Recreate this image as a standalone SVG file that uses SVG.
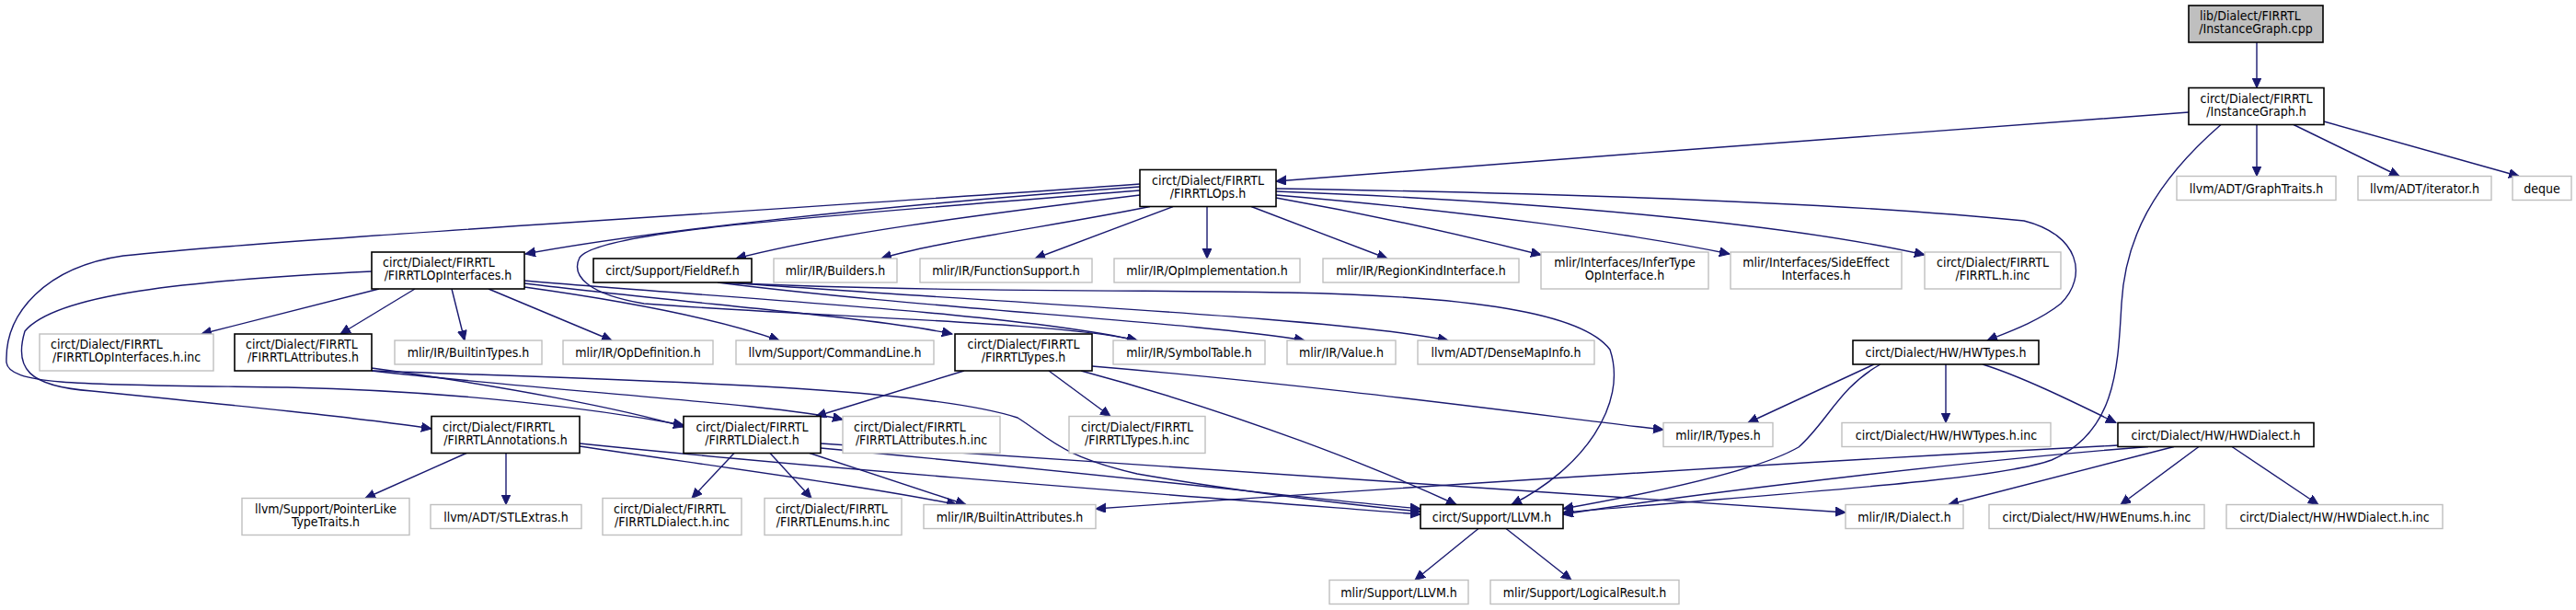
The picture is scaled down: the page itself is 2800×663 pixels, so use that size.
<svg xmlns="http://www.w3.org/2000/svg" width="2800" height="663" viewBox="0 0 2800 663">
<defs>
<marker id="a" markerUnits="userSpaceOnUse" markerWidth="12" markerHeight="11" refX="11" refY="5" orient="auto">
<path d="M0,0 L11,5 L0,10 z" fill="#191970" stroke="#191970" stroke-width="1"/>
</marker>
</defs>
<style>
rect{fill:#fff;stroke-width:1.4}
.n rect{stroke:#000;stroke-width:1.6}
.g rect{stroke:#bfbfbf}
.root rect{fill:#bfbfbf;stroke:#000;stroke-width:1.6}
text{font-family:'DejaVu Sans Condensed','Liberation Sans',sans-serif;font-stretch:condensed;font-size:14px;fill:#000}
.c{text-anchor:middle}
#edges path{fill:none;stroke:#191970;stroke-width:1.4;marker-end:url(#a)}
</style>
<rect x="0" y="0" width="2800" height="663" style="fill:#fff;stroke:none"/>
<g id="edges">
<path d="M2453,46 L2453,95.5"/>
<path d="M2453,135.5 L2453,191.5"/>
<path d="M2493,135.5 L2608,191.5"/>
<path d="M2526,132 L2738,191.5"/>
<path d="M2379,122 C2100,143 1700,172 1387,197"/>
<path d="M2414,135.5 C2340,200 2310,260 2306,330 C2302,400 2300,470 2230,500 C2170,522 1950,535 1699,557"/>
<path d="M1239,203 C950,224 700,252 571,276"/>
<path d="M1239,212 C1050,235 900,255 800,281"/>
<path d="M1250,224.5 C1150,245 1020,262 958,281"/>
<path d="M1275,224.5 L1125,281"/>
<path d="M1312,224.5 L1312,281"/>
<path d="M1360,224.5 L1508,281"/>
<path d="M1387,215 C1500,235 1600,258 1675,277"/>
<path d="M1387,212 C1600,230 1780,255 1880,276"/>
<path d="M1387,208 C1700,220 1950,245 2092,277"/>
<path d="M1387,205 C1700,210 2000,220 2200,240 C2260,255 2270,300 2240,330 C2215,350 2180,362 2160,370"/>
<path d="M1239,207 C900,235 650,250 630,280 C620,300 640,320 700,330 C900,345 1150,350 1236,370"/>
<path d="M1239,200 C900,225 300,260 134,278 C50,290 5,340 7,394 C10,420 100,418 312,421 C500,425 650,445 743,462"/>
<path d="M412,314 L219,363"/>
<path d="M451,314 L370,363"/>
<path d="M491,314 L505,370"/>
<path d="M531,314 L665,370"/>
<path d="M570,312 C700,330 790,350 847,370"/>
<path d="M570,308 C750,330 950,345 1035,363"/>
<path d="M570,305 C800,325 1100,340 1236,370"/>
<path d="M404,295 C200,305 60,320 27,360 C15,400 30,420 100,425 C250,440 400,455 469,466"/>
<path d="M780,307 C1000,335 1300,350 1418,370"/>
<path d="M790,307 C1100,330 1450,345 1574,370"/>
<path d="M785,307 C1000,318 1300,315 1400,318 C1600,322 1720,340 1750,380 C1770,440 1720,510 1643,548.5"/>
<path d="M404,400 C550,420 680,445 743,464"/>
<path d="M404,403 C600,425 850,440 916,456"/>
<path d="M404,403 C700,414 1000,420 1106,454 C1140,475 1150,495 1236,515 C1350,535 1480,550 1544,556"/>
<path d="M1048,403 L887,452.5"/>
<path d="M1140,403 L1207,452.5"/>
<path d="M1187,398 C1450,420 1700,455 1808,467"/>
<path d="M1175,403 C1350,450 1500,510 1583,548.5"/>
<path d="M507,492.5 L397,541.5"/>
<path d="M550,492.5 L550,548.5"/>
<path d="M630,485 C800,510 950,530 1040,548.5"/>
<path d="M630,482 C900,510 1300,540 1544,559"/>
<path d="M798,492.5 L752,541.5"/>
<path d="M837,492.5 L882,541.5"/>
<path d="M880,492.5 L1050,548.5"/>
<path d="M892,482 C1300,510 1800,540 2006,557"/>
<path d="M892,487 C1200,515 1450,545 1544,553"/>
<path d="M2037,396 L1900,459.5"/>
<path d="M2115,396 L2115,459.5"/>
<path d="M2155,396 C2200,410 2260,440 2300,459.5"/>
<path d="M2044,396 C2000,420 1985,460 1955,486 C1910,512 1800,535 1699,553"/>
<path d="M2390,485.5 L2305,548.5"/>
<path d="M2426,485.5 L2520,548.5"/>
<path d="M2363,485.5 L2118,548.5"/>
<path d="M2335,485.5 C2150,500 1850,535 1699,559"/>
<path d="M2302,484 C1900,505 1450,535 1191,553"/>
<path d="M1607,574.5 L1538,630.5"/>
<path d="M1637,574.5 L1708,630.5"/>
</g>
<g id="n0" class="root"><rect x="2379" y="6" width="146" height="40"/><text x="2391" y="22">lib/Dialect/FIRRTL</text><text class="c" x="2452" y="36">/InstanceGraph.cpp</text></g>
<g id="n1" class="n"><rect x="2379" y="95.5" width="147" height="40"/><text class="c" x="2452.5" y="111.5">circt/Dialect/FIRRTL</text><text class="c" x="2452.5" y="125.5">/InstanceGraph.h</text></g>
<g id="n2" class="n"><rect x="1239" y="184.5" width="148" height="40"/><text class="c" x="1313" y="200.5">circt/Dialect/FIRRTL</text><text class="c" x="1313" y="214.5">/FIRRTLOps.h</text></g>
<g id="n3" class="g"><rect x="2366" y="191.5" width="173" height="26"/><text class="c" x="2452.5" y="209.5">llvm/ADT/GraphTraits.h</text></g>
<g id="n4" class="g"><rect x="2563" y="191.5" width="145" height="26"/><text class="c" x="2635.5" y="209.5">llvm/ADT/iterator.h</text></g>
<g id="n5" class="g"><rect x="2731" y="191.5" width="64" height="26"/><text class="c" x="2763" y="209.5">deque</text></g>
<g id="n6" class="n"><rect x="404" y="274" width="166" height="40"/><text x="416" y="290">circt/Dialect/FIRRTL</text><text class="c" x="487" y="304">/FIRRTLOpInterfaces.h</text></g>
<g id="n7" class="n"><rect x="645" y="281" width="172" height="26"/><text class="c" x="731" y="299">circt/Support/FieldRef.h</text></g>
<g id="n8" class="g"><rect x="841" y="281" width="134" height="26"/><text class="c" x="908" y="299">mlir/IR/Builders.h</text></g>
<g id="n9" class="g"><rect x="1000" y="281" width="187" height="26"/><text class="c" x="1093.5" y="299">mlir/IR/FunctionSupport.h</text></g>
<g id="n10" class="g"><rect x="1211" y="281" width="202" height="26"/><text class="c" x="1312" y="299">mlir/IR/OpImplementation.h</text></g>
<g id="n11" class="g"><rect x="1438" y="281" width="213" height="26"/><text class="c" x="1544.5" y="299">mlir/IR/RegionKindInterface.h</text></g>
<g id="n12" class="g"><rect x="1675" y="274" width="182" height="40"/><text class="c" x="1766" y="290">mlir/Interfaces/InferType</text><text class="c" x="1766" y="304">OpInterface.h</text></g>
<g id="n13" class="g"><rect x="1881" y="274" width="186" height="40"/><text class="c" x="1974" y="290">mlir/Interfaces/SideEffect</text><text class="c" x="1974" y="304">Interfaces.h</text></g>
<g id="n14" class="g"><rect x="2092" y="274" width="148" height="40"/><text class="c" x="2166" y="290">circt/Dialect/FIRRTL</text><text class="c" x="2166" y="304">/FIRRTL.h.inc</text></g>
<g id="n15" class="g"><rect x="43" y="363" width="189" height="40"/><text x="55" y="379">circt/Dialect/FIRRTL</text><text class="c" x="137.5" y="393">/FIRRTLOpInterfaces.h.inc</text></g>
<g id="n16" class="n"><rect x="255" y="363" width="149" height="40"/><text x="267" y="379">circt/Dialect/FIRRTL</text><text class="c" x="329.5" y="393">/FIRRTLAttributes.h</text></g>
<g id="n17" class="g"><rect x="429" y="370" width="160" height="26"/><text class="c" x="509" y="388">mlir/IR/BuiltinTypes.h</text></g>
<g id="n18" class="g"><rect x="612" y="370" width="163" height="26"/><text class="c" x="693.5" y="388">mlir/IR/OpDefinition.h</text></g>
<g id="n19" class="g"><rect x="800" y="370" width="215" height="26"/><text class="c" x="907.5" y="388">llvm/Support/CommandLine.h</text></g>
<g id="n20" class="n"><rect x="1038" y="363" width="149" height="40"/><text class="c" x="1112.5" y="379">circt/Dialect/FIRRTL</text><text class="c" x="1112.5" y="393">/FIRRTLTypes.h</text></g>
<g id="n21" class="g"><rect x="1210" y="370" width="165" height="26"/><text class="c" x="1292.5" y="388">mlir/IR/SymbolTable.h</text></g>
<g id="n22" class="g"><rect x="1399" y="370" width="118" height="26"/><text class="c" x="1458" y="388">mlir/IR/Value.h</text></g>
<g id="n23" class="g"><rect x="1541" y="370" width="192" height="26"/><text class="c" x="1637" y="388">llvm/ADT/DenseMapInfo.h</text></g>
<g id="n24" class="n"><rect x="2014" y="370" width="202" height="26"/><text class="c" x="2115" y="388">circt/Dialect/HW/HWTypes.h</text></g>
<g id="n25" class="n"><rect x="469" y="452.5" width="161" height="40"/><text x="481" y="468.5">circt/Dialect/FIRRTL</text><text class="c" x="549.5" y="482.5">/FIRRTLAnnotations.h</text></g>
<g id="n26" class="n"><rect x="743" y="452.5" width="149" height="40"/><text class="c" x="817.5" y="468.5">circt/Dialect/FIRRTL</text><text class="c" x="817.5" y="482.5">/FIRRTLDialect.h</text></g>
<g id="n27" class="g"><rect x="916" y="452.5" width="171" height="40"/><text x="928" y="468.5">circt/Dialect/FIRRTL</text><text class="c" x="1001.5" y="482.5">/FIRRTLAttributes.h.inc</text></g>
<g id="n28" class="g"><rect x="1162" y="452.5" width="148" height="40"/><text class="c" x="1236" y="468.5">circt/Dialect/FIRRTL</text><text class="c" x="1236" y="482.5">/FIRRTLTypes.h.inc</text></g>
<g id="n29" class="g"><rect x="1808" y="459.5" width="119" height="26"/><text class="c" x="1867.5" y="477.5">mlir/IR/Types.h</text></g>
<g id="n30" class="g"><rect x="2002" y="459.5" width="227" height="26"/><text class="c" x="2115.5" y="477.5">circt/Dialect/HW/HWTypes.h.inc</text></g>
<g id="n31" class="n"><rect x="2302" y="459.5" width="213" height="26"/><text class="c" x="2408.5" y="477.5">circt/Dialect/HW/HWDialect.h</text></g>
<g id="n32" class="g"><rect x="263" y="541.5" width="182" height="40"/><text class="c" x="354" y="557.5">llvm/Support/PointerLike</text><text class="c" x="354" y="571.5">TypeTraits.h</text></g>
<g id="n33" class="g"><rect x="468" y="548.5" width="164" height="26"/><text class="c" x="550" y="566.5">llvm/ADT/STLExtras.h</text></g>
<g id="n34" class="g"><rect x="655" y="541.5" width="151" height="40"/><text x="667" y="557.5">circt/Dialect/FIRRTL</text><text class="c" x="730.5" y="571.5">/FIRRTLDialect.h.inc</text></g>
<g id="n35" class="g"><rect x="831" y="541.5" width="149" height="40"/><text x="843" y="557.5">circt/Dialect/FIRRTL</text><text class="c" x="905.5" y="571.5">/FIRRTLEnums.h.inc</text></g>
<g id="n36" class="g"><rect x="1004" y="548.5" width="187" height="26"/><text class="c" x="1097.5" y="566.5">mlir/IR/BuiltinAttributes.h</text></g>
<g id="n37" class="n"><rect x="1544" y="548.5" width="155" height="26"/><text class="c" x="1621.5" y="566.5">circt/Support/LLVM.h</text></g>
<g id="n38" class="g"><rect x="2006" y="548.5" width="128" height="26"/><text class="c" x="2070" y="566.5">mlir/IR/Dialect.h</text></g>
<g id="n39" class="g"><rect x="2162" y="548.5" width="234" height="26"/><text class="c" x="2279" y="566.5">circt/Dialect/HW/HWEnums.h.inc</text></g>
<g id="n40" class="g"><rect x="2420" y="548.5" width="235" height="26"/><text class="c" x="2537.5" y="566.5">circt/Dialect/HW/HWDialect.h.inc</text></g>
<g id="n41" class="g"><rect x="1445" y="630.5" width="151" height="26"/><text class="c" x="1520.5" y="648.5">mlir/Support/LLVM.h</text></g>
<g id="n42" class="g"><rect x="1620" y="630.5" width="205" height="26"/><text class="c" x="1722.5" y="648.5">mlir/Support/LogicalResult.h</text></g>
</svg>
